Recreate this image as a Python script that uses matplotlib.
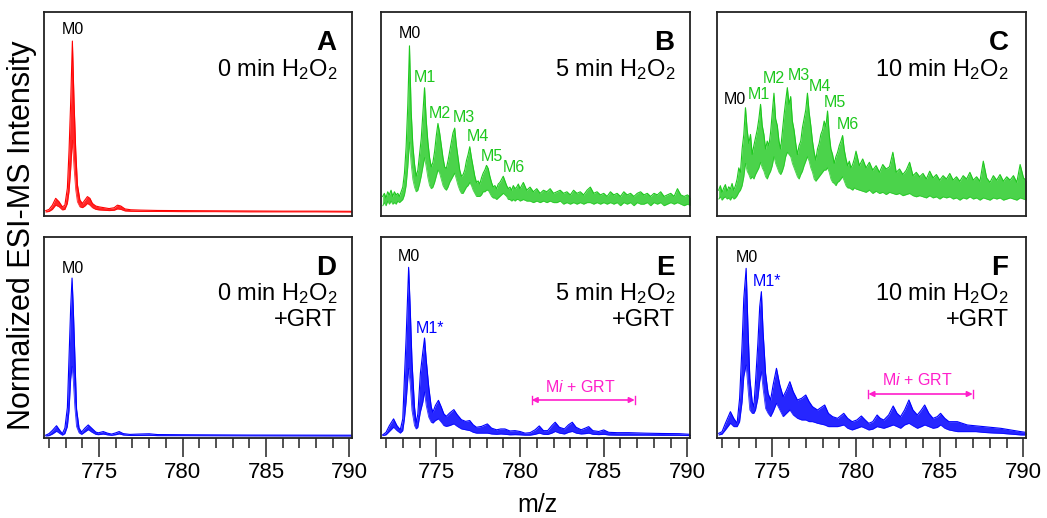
import numpy as np
import matplotlib
matplotlib.use("Agg")
import matplotlib.pyplot as plt
from matplotlib import font_manager
from matplotlib.ticker import MultipleLocator

plt.rcParams['font.family'] = ['Liberation Sans', 'DejaVu Sans']
plt.rcParams['mathtext.fontset'] = 'custom'
plt.rcParams['mathtext.rm'] = 'Liberation Sans'
plt.rcParams['mathtext.it'] = 'Liberation Sans:italic'

names = {f.name for f in font_manager.fontManager.ttflist}
if 'Liberation Sans Narrow' in names:
    tick_font, tick_size = ['Liberation Sans Narrow', 'Liberation Sans'], 18
else:
    tick_font, tick_size = ['Liberation Sans', 'DejaVu Sans'], 16

RED = '#ff0000'
GREEN = '#1ec81e'
BLUE = '#0000ff'
MAGENTA = '#ff1ecb'

# ---- panel A: 0 min H2O2 (red) ----
mz_a = [771.8, 772.0, 772.2, 772.4, 772.6, 772.8, 772.95, 773.1, 773.2, 773.3,
        773.4, 773.5, 773.6, 773.7, 773.85, 774.0, 774.15, 774.3, 774.45, 774.6,
        774.8, 775.0, 775.3, 775.6, 775.9, 776.1, 776.3, 776.55, 776.9, 777.5,
        778.5, 780.0, 782.0, 784.0, 786.0, 788.0, 790.2]
hi_a = [0.8, 1.5, 4, 8, 6, 3, 4, 14, 36, 65,
        100, 64, 36, 16, 7, 5, 7, 9, 8, 5,
        3.5, 3, 2.5, 2, 2.5, 4, 3.5, 1.8, 1.3, 1.1,
        0.9, 0.8, 0.7, 0.6, 0.5, 0.5, 0.4]
lo_a = [0, 0.3, 1.5, 4, 3, 1.2, 1.5, 5, 12, 25,
        42, 26, 13, 6, 3, 2.5, 3.5, 5, 4, 2.5,
        1.5, 1.2, 1, 0.8, 1, 1.8, 1.5, 0.6, 0.4, 0.3,
        0.3, 0.2, 0.2, 0.1, 0.1, 0.1, 0]

# ---- panel B: 5 min H2O2 (green) ----
mz_b = np.round(np.r_[np.arange(771.8, 780.05, 0.1), np.arange(780.2, 790.25, 0.2)], 2)
hi_b = [3, 5, 2, 6, 4, 7, 3, 6, 4, 5,
        3, 6, 9, 18, 35, 62, 100, 58, 36, 24,
        16, 20, 30, 40, 56, 73, 52, 38, 28, 22,
        25, 32, 42, 50, 44, 36, 28, 22, 21, 26,
        32, 38, 44, 47, 36, 28, 20, 16, 17, 20,
        26, 30, 35, 28, 22, 16, 12, 13, 11, 15,
        18, 20, 23, 21, 16, 12, 9, 10, 8, 11,
        12, 14, 16, 13, 10, 8, 9, 7, 10, 8,
        9, 11, 8,
        12, 7, 9, 6, 8, 5, 7, 6, 8, 5,
        6, 7, 5, 6, 4, 7, 5, 6, 4, 7,
        9, 5, 6, 4, 5, 3, 6, 4, 5, 3,
        6, 4, 5, 3, 5, 6, 4, 5, 3, 5,
        4, 6, 3, 4, 5, 3, 8, 4, 3, 4,
        2]
lo_b = [-3, -1, -3, 0, -2, 0, -2, -1, -2, 0,
        -1, 0, 1, 4, 10, 22, 38, 24, 14, 9,
        6, 7, 11, 16, 22, 28, 22, 15, 10, 8,
        9, 12, 16, 20, 18, 14, 10, 8, 7, 9,
        12, 14, 16, 18, 14, 10, 7, 5, 5, 7,
        9, 10, 12, 10, 7, 5, 3, 3, 3, 4,
        6, 6, 7, 7, 5, 3, 2, 2, 1, 2,
        3, 4, 5, 4, 3, 1, 1, 0, 1, 0,
        1, 1, 0,
        1, 0, 0, -1, 0, -1, 0, -1, 0, -1,
        -1, 0, -2, -1, -2, -1, -2, -1, -2, -1,
        -1, -2, -1, -2, -1, -2, -1, -2, -1, -3,
        -1, -2, -1, -3, -1, -2, -2, -1, -3, -1,
        -2, -1, -3, -2, -1, -2, -1, -2, -3, -2,
        -3]

# ---- panel C: 10 min H2O2 (green) ----
mz_c = mz_b
hi_c = [8, 12, 6, 10, 13, 7, 11, 9, 14, 8,
        12, 18, 28, 24, 45, 58, 82, 62, 50, 58,
        40, 48, 55, 62, 72, 85, 66, 58, 45, 52,
        48, 60, 78, 95, 72, 66, 52, 45, 60, 75,
        88, 100, 85, 92, 70, 62, 50, 40, 48, 52,
        64, 72, 80, 95, 78, 66, 52, 42, 35, 45,
        50, 58, 62, 70, 65, 79, 58, 45, 40, 32,
        38, 42, 48, 52, 57, 44, 36, 30, 34, 28,
        31, 36, 43,
        30, 36, 28, 33, 26, 30, 24, 31, 27, 29,
        42, 24, 27, 22, 26, 33, 21, 24, 20, 23,
        18, 25, 19, 22, 17, 21, 18, 23, 17, 20,
        16, 21, 18, 24, 17, 20, 16, 34, 19, 15,
        21, 17, 22, 16, 20, 17, 21, 15, 31, 19,
        16]
lo_c = [0, 2, -1, 1, 2, 0, 1, -1, 2, 0,
        1, 3, 6, 8, 12, 20, 32, 25, 22, 18,
        20, 18, 22, 25, 28, 33, 28, 25, 20, 18,
        22, 25, 30, 38, 32, 28, 24, 22, 25, 30,
        38, 42, 40, 38, 32, 28, 24, 20, 18, 22,
        25, 30, 34, 38, 34, 28, 24, 18, 16, 18,
        20, 22, 24, 26, 26, 28, 24, 18, 15, 14,
        12, 15, 16, 18, 20, 16, 12, 10, 10, 9,
        8, 10, 9,
        8, 7, 6, 8, 5, 7, 5, 6, 4, 6,
        5, 4, 5, 3, 4, 5, 3, 2, 3, 2,
        1, 3, 1, 2, 0, 2, 1, 2, 0, 1,
        -1, 1, 0, 2, 0, 1, -1, 1, 0, -1,
        1, 0, 1, -1, 0, 1, 0, -1, 1, 0,
        -1]

# ---- panel D: 0 min H2O2 + GRT (blue) ----
mz_d = [771.8, 772.0, 772.2, 772.45, 772.65, 772.8, 772.95, 773.1, 773.2, 773.3,
        773.38, 773.45, 773.55, 773.65, 773.8, 773.95, 774.15, 774.35, 774.55, 774.8,
        774.95, 775.25, 775.5, 775.75, 776.0, 776.2, 776.45, 776.85, 777.3, 778.0,
        778.5, 780.0, 784.0, 790.2]
hi_d = [0.5, 1.5, 3.5, 6.5, 3.5, 1.5, 5, 18, 50, 82,
        100, 82, 50, 17, 5, 2.5, 5, 7, 5, 2.5,
        2, 2.8, 1.8, 1.2, 2, 2.8, 1.5, 1, 1.2, 1.4,
        0.9, 0.8, 0.6, 0.5]
lo_d = [0, 0.2, 1.2, 3, 1.5, 0.5, 1.5, 6, 16, 36,
        44, 36, 18, 6, 2, 1, 2.5, 4, 2.5, 1,
        0.8, 1.2, 0.7, 0.4, 0.8, 1.3, 0.6, 0.3, 0.3, 0.4,
        0.2, 0.2, 0.1, 0]

# ---- panel E: 5 min H2O2 + GRT (blue) ----
mz_e = [771.8, 772.0, 772.2, 772.45, 772.65, 772.85, 773.0, 773.1, 773.2, 773.35,
        773.45, 773.55, 773.7, 773.8, 773.9, 774.05, 774.2, 774.3, 774.4, 774.55,
        774.7, 774.8, 774.95, 775.13, 775.3, 775.45, 775.6, 775.8, 776.05, 776.25,
        776.5, 776.75, 777.0, 777.2, 777.4, 777.7, 778.05, 778.3, 778.6, 778.85,
        779.1, 779.4, 779.7, 780.0, 780.3, 780.6, 780.9, 781.15, 781.4, 781.65,
        781.9, 782.1, 782.35, 782.65, 782.9, 783.12, 783.35, 783.65, 783.9, 784.1,
        784.35, 784.7, 785.0, 785.3, 785.8, 786.5, 787.5, 788.5, 789.5, 790.2]
hi_e = [0.5, 2, 6, 10, 6, 3.5, 10, 35, 58, 100,
        74, 44, 17, 7.5, 13, 37, 50, 58, 45, 29,
        17, 14, 18, 21, 17, 13, 11.5, 13.5, 15.5, 12.5,
        9.5, 8.5, 9, 6.5, 5, 5.5, 7, 4.5, 3.5, 4,
        4, 2.8, 3, 2.5, 1.5, 1.8, 3.5, 5.8, 3, 3,
        6, 8, 5, 4, 6.5, 8, 5, 3.5, 4.5, 5.4,
        3, 2.5, 3.4, 2, 1.8, 1.8, 1.5, 1.3, 1.2, 0.8]
lo_e = [0, 0.5, 2.5, 5, 3, 1.5, 3, 10, 20, 40,
        30, 15, 6, 4, 5, 14, 20, 26, 18, 11,
        8, 7.5, 9, 10, 8, 6, 5.5, 6, 7, 5.5,
        4, 3.5, 3, 2, 1.5, 1.5, 1.5, 1, 0.8, 1,
        0.8, 0.5, 0.6, 0.5, 0.3, 0.3, 0.8, 1.5, 0.8, 0.7,
        1.5, 2.5, 1.5, 1, 2, 2.5, 1.5, 1, 1.2, 1.5,
        0.8, 0.6, 0.8, 0.4, 0.3, 0.3, 0.3, 0.2, 0.2, 0]

# ---- panel F: 10 min H2O2 + GRT (blue) ----
mz_f = [771.8, 772.0, 772.2, 772.5, 772.7, 772.9, 773.05, 773.2, 773.3, 773.44,
        773.55, 773.66, 773.8, 773.9, 774.0, 774.14, 774.25, 774.35, 774.45, 774.6,
        774.75, 774.9, 775.05, 775.25, 775.45, 775.65, 775.85, 776.05, 776.25, 776.5,
        776.75, 777.0, 777.2, 777.4, 777.7, 778.13, 778.35, 778.6, 778.9, 779.27,
        779.5, 779.77, 780.05, 780.32, 780.55, 780.76, 781.0, 781.26, 781.45, 781.66,
        781.95, 782.22, 782.45, 782.66, 782.9, 783.16, 783.4, 783.66, 783.9, 784.1,
        784.35, 784.6, 784.85, 785.05, 785.3, 785.55, 785.8, 786.05, 786.35, 786.65,
        787.15, 787.65, 788.15, 788.65, 789.25, 789.85, 790.2]
hi_f = [1, 2, 7, 14, 10, 7, 22, 55, 82, 100,
        64, 34, 20, 17, 32, 55, 77, 86, 62, 37,
        25, 21, 30, 40, 30, 23, 27, 32, 26, 21,
        22, 24, 20, 17, 15, 18, 13, 11, 10, 13,
        10, 8, 9, 11.4, 9, 7, 8, 12, 10, 9,
        12, 17.4, 13, 11, 15, 21, 15, 12, 15, 18,
        13, 10, 11, 13, 10, 8, 8, 8, 7, 6,
        5.5, 5, 4.5, 4, 3, 2, 1.5]
lo_f = [0, 0.5, 3, 7, 5, 5, 8, 20, 35, 42,
        28, 15, 13, 13, 15, 22, 32, 38, 28, 16,
        13, 11, 14, 19, 15, 11, 13, 15, 12, 10,
        9, 9, 8, 8, 7, 6, 5, 5, 5, 6,
        4, 3, 4, 5, 4, 3, 3.5, 5, 4.5, 4,
        5, 6, 5, 4, 6, 7, 5.5, 4, 5, 6,
        5, 4, 4.5, 6, 4, 3, 2.5, 2, 2, 2,
        2, 1.5, 1.2, 1, 0.5, 0, 0]

fig = plt.figure(figsize=(10.47, 5.18), dpi=100)
W, H = 1047.0, 518.0
cols = [(44, 352), (381, 690), (717, 1026)]
rows = [(12, 216), (237, 438)]


def make_ax(c, r):
    (x0, x1), (y0, y1) = cols[c], rows[r]
    return fig.add_axes([x0 / W, 1 - y1 / H, (x1 - x0) / W, (y1 - y0) / H])


panels = [
    (0, 0, mz_a, hi_a, lo_a, RED, (-2.34, 117.0), 'A', '0 min H$_2$O$_2$', False),
    (1, 0, mz_b, hi_b, lo_b, GREEN, (-9.6, 121.8), 'B', '5 min H$_2$O$_2$', False),
    (2, 0, mz_c, hi_c, lo_c, GREEN, (-15.2, 167.9), 'C', '10 min H$_2$O$_2$', False),
    (0, 1, mz_d, hi_d, lo_d, BLUE, (-1.27, 126.0), 'D', '0 min H$_2$O$_2$', True),
    (1, 1, mz_e, hi_e, lo_e, BLUE, (-1.37, 118.0), 'E', '5 min H$_2$O$_2$', True),
    (2, 1, mz_f, hi_f, lo_f, BLUE, (-1.8, 118.8), 'F', '10 min H$_2$O$_2$', True),
]

axes = {}
for c, r, mz, hi, lo, color, ylim, letter, cond, grt in panels:
    ax = make_ax(c, r)
    axes[letter] = ax
    noisy = color == GREEN
    ax.fill_between(mz, lo, hi, color=color, lw=0, alpha=0.8 if noisy else 0.85)
    ax.plot(mz, hi, color=color, lw=0.8)
    ax.plot(mz, lo, color=color, lw=0.6, alpha=0.8)
    ax.set_xlim(771.7, 790.15)
    ax.set_ylim(*ylim)
    ax.set_yticks([])
    for s in ax.spines.values():
        s.set_linewidth(1.3)
        s.set_color('#222222')
    if r == 0:
        ax.set_xticks([])
    else:
        ax.set_xticks([775, 780, 785, 790])
        ax.xaxis.set_minor_locator(MultipleLocator(1))
        ax.tick_params(axis='x', which='major', direction='out', length=14, width=1.1,
                       pad=3, labelsize=tick_size, color='#222222')
        ax.tick_params(axis='x', which='minor', direction='out', length=7, width=1.1,
                       color='#222222')
        for lab in ax.get_xticklabels():
            lab.set_family(tick_font)
    lx = 0.95 if c < 2 else 0.943
    ax.text(lx, 0.847, letter, transform=ax.transAxes, ha='right', va='center',
            fontsize=20, fontweight='bold')
    ax.text(lx + 0.002, 0.72, cond, transform=ax.transAxes, ha='right', va='center',
            fontsize=17)
    if grt:
        ax.text(lx + 0.002, 0.587, '+GRT', transform=ax.transAxes, ha='right',
                va='center', fontsize=17)

# peak labels
lab_kw = dict(ha='center', va='center', fontsize=11.5)
axes['A'].text(773.45, 106.8, 'M0', **lab_kw)
axes['D'].text(773.45, 106.0, 'M0', **lab_kw)

axes['B'].text(773.4, 108.0, 'M0', **lab_kw)
for txt, x, y in [('M1', 774.33, 79.3), ('M2', 775.19, 56.4), ('M3', 776.67, 53.6),
                  ('M4', 777.49, 41.5), ('M5', 778.33, 29.0), ('M6', 779.66, 21.6)]:
    axes['B'].text(x, y, txt, color=GREEN, **lab_kw)

axes['C'].text(772.78, 89.3, 'M0', **lab_kw)
for txt, x, y in [('M1', 774.23, 93.8), ('M2', 775.07, 108.6), ('M3', 776.57, 110.7),
                  ('M4', 777.87, 101.0), ('M5', 778.71, 86.9), ('M6', 779.53, 67.0)]:
    axes['C'].text(x, y, txt, color=GREEN, **lab_kw)

axes['E'].text(773.35, 106.3, 'M0', **lab_kw)
axes['E'].text(774.6, 63.8, 'M1*', color=BLUE, **lab_kw)
axes['F'].text(773.48, 106.4, 'M0', **lab_kw)
axes['F'].text(774.68, 92.0, 'M1*', color=BLUE, **lab_kw)

# Mi + GRT ranges
for key, x0, x1, ya, yt, xt in [('E', 780.7, 786.85, 21.2, 28.9, 783.6),
                                ('F', 780.74, 786.97, 24.6, 33.0, 783.68)]:
    ax = axes[key]
    ax.annotate('', xy=(x0, ya), xytext=(x1, ya),
                arrowprops=dict(arrowstyle='<|-|>', color=MAGENTA, lw=1.2,
                                mutation_scale=8, shrinkA=0, shrinkB=0))
    ax.plot([x0, x0], [ya - 2.2, ya + 2.2], color=MAGENTA, lw=1.0)
    ax.plot([x1, x1], [ya - 2.2, ya + 2.2], color=MAGENTA, lw=1.0)
    ax.text(xt, yt, 'M$i$ + GRT', color=MAGENTA, ha='center', va='center', fontsize=11.5)

fig.text(0.021, 0.545, 'Normalized ESI-MS Intensity', rotation=90, ha='center',
         va='center', fontsize=22)
fig.text(537 / W, 1 - 505 / H, 'm/z', ha='center', va='center', fontsize=tick_size + 2,
         family=tick_font)

fig.savefig('out.png', dpi=100)
